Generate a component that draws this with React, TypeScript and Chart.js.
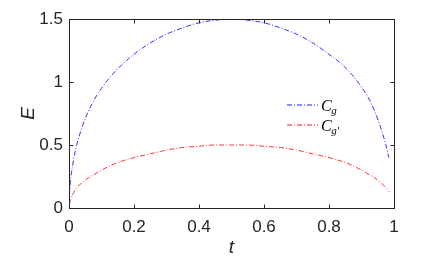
import React, { useEffect, useRef } from "react";
import { Chart, registerables } from "chart.js";

Chart.register(...registerables);

// ---- data ----
const tValues = [
  0.001, 0.005, 0.01, 0.02, 0.04, 0.06, 0.08, 0.1, 0.13, 0.16, 0.2, 0.25, 0.3,
  0.35, 0.4, 0.45, 0.5, 0.55, 0.6, 0.65, 0.7, 0.75, 0.8, 0.84, 0.87, 0.9,
  0.92, 0.94, 0.96, 0.975, 0.984,
];
const cgValues = [
  0.1, 0.23, 0.32, 0.46, 0.64, 0.77, 0.87, 0.95, 1.05, 1.13, 1.22, 1.31, 1.38,
  1.43, 1.47, 1.49, 1.5, 1.49, 1.47, 1.43, 1.38, 1.31, 1.22, 1.14, 1.06, 0.96,
  0.88, 0.77, 0.63, 0.5, 0.4,
];
const cgPrimeValues = [
  0.03, 0.07, 0.1, 0.15, 0.2, 0.24, 0.27, 0.3, 0.34, 0.37, 0.4, 0.43, 0.46,
  0.48, 0.49, 0.5, 0.5, 0.5, 0.49, 0.48, 0.46, 0.43, 0.4, 0.37, 0.34, 0.3,
  0.27, 0.24, 0.2, 0.16, 0.13,
];
const xTickValues = [0, 0.2, 0.4, 0.6, 0.8, 1];
const yTickValues = [0, 0.5, 1, 1.5];
const seriesNames = ["C_g", "C_g'"];
const seriesColors = ["rgb(0,0,255)", "rgb(255,0,0)"];

const AXIS_COLOR = "#262626";
const TICK_FONT = "'Liberation Sans', Arial, sans-serif";
const DASH = [5, 2, 1, 2];

const fmt = (v: number) => String(Math.round(v * 10) / 10);

const framePlugin = {
  id: "matlabFrame",
  afterDraw(chart: any) {
    const ctx = chart.ctx as CanvasRenderingContext2D;
    const { left, right, top, bottom } = chart.chartArea;
    const xs = chart.scales.x;
    const ys = chart.scales.y;
    ctx.save();
    ctx.strokeStyle = AXIS_COLOR;
    ctx.lineWidth = 1;
    ctx.beginPath();
    ctx.rect(left + 0.5, top + 0.5, right - left, bottom - top);
    ctx.stroke();
    const tl = 4;
    ctx.beginPath();
    xTickValues.forEach((v) => {
      const px = Math.round(xs.getPixelForValue(v)) + 0.5;
      ctx.moveTo(px, bottom + 0.5);
      ctx.lineTo(px, bottom + 0.5 - tl);
      ctx.moveTo(px, top + 0.5);
      ctx.lineTo(px, top + 0.5 + tl);
    });
    yTickValues.forEach((v) => {
      const py = Math.round(ys.getPixelForValue(v)) + 0.5;
      ctx.moveTo(left + 0.5, py);
      ctx.lineTo(left + 0.5 + tl, py);
      ctx.moveTo(right + 0.5, py);
      ctx.lineTo(right + 0.5 - tl, py);
    });
    ctx.stroke();

    // legend (no box)
    const lx0 = left + (right - left) * 0.671;
    const lineLen = 31;
    seriesNames.forEach((name, i) => {
      const y = top + 86 + i * 20;
      ctx.strokeStyle = seriesColors[i];
      ctx.lineWidth = 0.9;
      ctx.setLineDash(DASH);
      ctx.beginPath();
      ctx.moveTo(lx0, y);
      ctx.lineTo(lx0 + lineLen, y);
      ctx.stroke();
      ctx.setLineDash([]);
      const [base, sub] = name.split("_");
      ctx.fillStyle = "#000";
      ctx.textBaseline = "alphabetic";
      ctx.textAlign = "left";
      ctx.font = "italic 16px 'Liberation Serif', 'Times New Roman', serif";
      const tx = lx0 + lineLen + 3;
      ctx.fillText(base, tx, y + 6);
      const w = ctx.measureText(base).width;
      ctx.font = "italic 11px 'Liberation Serif', 'Times New Roman', serif";
      const subText = sub.replace("'", "\u2032");
      ctx.fillText(subText, tx + w - 0.5, y + 8.5);
    });
    ctx.restore();
  },
};

export default function App() {
  const canvasRef = useRef<HTMLCanvasElement | null>(null);

  useEffect(() => {
    const canvas = canvasRef.current;
    if (!canvas) return;
    const chart = new Chart(canvas, {
      type: "line",
      data: {
        datasets: [cgValues, cgPrimeValues].map((vals, i) => ({
          label: seriesNames[i],
          data: tValues.map((t, k) => ({ x: t, y: vals[k] })),
          borderColor: seriesColors[i],
          borderWidth: 0.8,
          borderDash: DASH,
          pointRadius: 0,
          fill: false,
          cubicInterpolationMode: "monotone" as const,
        })),
      },
      options: {
        responsive: false,
        animation: false,
        devicePixelRatio: 1,
        layout: { padding: { top: 19, right: 31, left: 0, bottom: 0 } },
        plugins: {
          legend: { display: false },
          tooltip: { enabled: false },
        },
        scales: {
          x: {
            type: "linear",
            min: 0,
            max: 1,
            grid: { display: false, drawTicks: false },
            border: { display: false },
            afterFit: (s: any) => {
              s.height = 56;
            },
            afterBuildTicks: (s: any) => {
              s.ticks = xTickValues.map((v) => ({ value: v }));
            },
            ticks: {
              color: AXIS_COLOR,
              font: { family: TICK_FONT, size: 17 },
              padding: 9,
              maxRotation: 0,
              autoSkip: false,
              callback: (v: any) => fmt(Number(v)),
            },
            title: {
              display: true,
              text: "t",
              color: AXIS_COLOR,
              font: { family: TICK_FONT, size: 19, style: "italic" },
              padding: { top: 0, bottom: 5 },
            },
          },
          y: {
            type: "linear",
            min: 0,
            max: 1.5,
            grid: { display: false, drawTicks: false },
            border: { display: false },
            afterFit: (s: any) => {
              s.width = 69;
            },
            afterBuildTicks: (s: any) => {
              s.ticks = yTickValues.map((v) => ({ value: v }));
            },
            ticks: {
              color: AXIS_COLOR,
              font: { family: TICK_FONT, size: 17 },
              padding: 6,
              autoSkip: false,
              callback: (v: any) => fmt(Number(v)),
            },
            title: {
              display: true,
              text: "E",
              color: AXIS_COLOR,
              font: { family: TICK_FONT, size: 19, style: "italic" },
              padding: { top: 17, bottom: 0 },
            },
          },
        },
      },
      plugins: [framePlugin],
    });
    return () => chart.destroy();
  }, []);

  return (
    <div style={{ position: "absolute", left: 0, top: 0, width: 425, height: 264, background: "#fff" }}>
      <canvas ref={canvasRef} width={425} height={264} style={{ display: "block" }} />
    </div>
  );
}
